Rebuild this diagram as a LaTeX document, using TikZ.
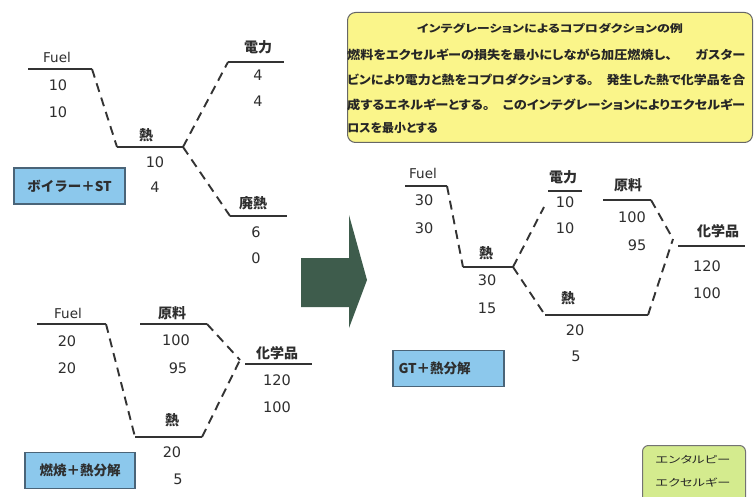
\documentclass[tikz,border=0pt]{standalone}
\usepackage{fontspec}
\setmainfont{DejaVu Sans}
\newfontfamily\jp{Noto Sans CJK JP}
\newfontfamily\jpp{Noto Sans CJK JP}[RawFeature=+palt]
\definecolor{linec}{HTML}{333333}
\definecolor{numc}{HTML}{2E2E2E}
\definecolor{boxblue}{HTML}{8CC8EC}
\definecolor{boxblueb}{HTML}{4A6478}
\definecolor{arrowg}{HTML}{3E5C4C}
\definecolor{noteyel}{HTML}{FAF58A}
\definecolor{notegrn}{HTML}{D4EB8E}
\begin{document}
\begin{tikzpicture}[x=1pt,y=-1pt,
  lvl/.style={draw=linec, line width=1.9pt},
  flow/.style={draw=linec, line width=1.9pt, dash pattern=on 9pt off 6pt},
  num/.style={font=\fontsize{14.5}{14.5}\selectfont, text=numc, inner sep=0pt},
  lab/.style={font=\jp\bfseries\fontsize{14}{14}\selectfont, text=numc, inner sep=0pt},
  fuel/.style={font=\fontsize{13.5}{13.5}\selectfont, text=numc, inner sep=0pt},
  casebox/.style={draw=boxblueb, line width=1.2pt, fill=boxblue, minimum width=#1, minimum height=36pt, font=\jp\bfseries\fontsize{13.5}{13.5}\selectfont, text=numc},
  body/.style={font=\jpp\bfseries\fontsize{12}{12}\selectfont, text=black!85, inner sep=0pt, anchor=west}
]
\useasboundingbox (0,0) rectangle (754,497);
\fill[white] (0,0) rectangle (754,497);

% ===== note boxes =====
\node[draw=black!60, line width=1pt, fill=noteyel, rounded corners=8pt, minimum width=405pt, minimum height=130pt, anchor=north west] (note) at (347,12) {};
\node[font=\jpp\bfseries\fontsize{10.5}{10.5}\selectfont, text=black!85, inner sep=0pt] (title) at (550,28) {\resizebox{266pt}{\height}{インテグレーションによるコプロダクションの例}};
\node[body] (l1) at (347,55) {\resizebox{398pt}{\height}{燃料をエクセルギーの損失を最小にしながら加圧燃焼し、\hspace{1.8em}ガスター}};
\node[body] (l2) at (347,80) {\resizebox{398pt}{\height}{ビンにより電力と熱をコプロダクションする。\hspace{1em}発生した熱で化学品を合}};
\node[body] (l3) at (347,105) {\resizebox{398pt}{\height}{成するエネルギーとする。\hspace{1em}このインテグレーションによりエクセルギー}};
\node[body] (l4) at (347,128) {ロスを最小とする};

\node[draw=black!55, line width=1pt, fill=notegrn, rounded corners=6pt, minimum width=103pt, minimum height=65pt, anchor=north west] (legend) at (642,445) {};
\node[font=\jpp\fontsize{10}{10}\selectfont, text=black!85, inner sep=0pt] (lg1) at (693,460) {\resizebox{75pt}{\height}{エンタルピー}};
\node[font=\jpp\fontsize{10}{10}\selectfont, text=black!85, inner sep=0pt] (lg2) at (693,483) {\resizebox{75pt}{\height}{エクセルギー}};

% ===== big arrow =====
\fill[arrowg] (301,258) -- (349,258) -- (349,215) -- (367,280) -- (349,328) -- (349,307) -- (301,307) -- cycle;

% ===== case 1: boiler + ST =====
\node[casebox=111pt] (c1) at (69.5,186) {ボイラー＋ST};
\coordinate (a1) at (28,69);  \coordinate (a2) at (92,69);
\coordinate (a3) at (117,147); \coordinate (a4) at (183,147);
\coordinate (a5) at (228,62); \coordinate (a6) at (284,62);
\coordinate (a7) at (230,216); \coordinate (a8) at (287,216);
\draw[lvl] (a1) -- (a2);
\draw[flow] (a2) -- (a3);
\draw[lvl] (a3) -- (a4);
\draw[flow] (a4) -- (a5);
\draw[lvl] (a5) -- (a6);
\draw[flow] (a4) -- (a7);
\draw[lvl] (a7) -- (a8);
\node[fuel] (f1) at (57,57) {Fuel};
\node[num] at (58,85) {10};
\node[num] at (58,112) {10};
\node[lab] (h1) at (146,135) {熱};
\node[num] at (155,162) {10};
\node[num] at (155,187) {4};
\node[lab] (e1) at (258,47) {電力};
\node[num] at (258,75) {4};
\node[num] at (258,101) {4};
\node[lab] (w1) at (253,203) {廃熱};
\node[num] at (256,232) {6};
\node[num] at (256,258) {0};

% ===== case 2: combustion + cracking =====
\node[casebox=110pt] (c2) at (80,470.5) {燃焼＋熱分解};
\coordinate (b1) at (37,324);  \coordinate (b2) at (106,324);
\coordinate (b3) at (135,437); \coordinate (b4) at (202,437);
\coordinate (b5) at (140,324); \coordinate (b6) at (207,324);
\coordinate (bj) at (240,360);
\coordinate (b7) at (245,364); \coordinate (b8) at (312,364);
\draw[lvl] (b1) -- (b2);
\draw[flow] (b2) -- (b3);
\draw[lvl] (b3) -- (b4);
\draw[flow] (b4) -- (bj);
\draw[lvl] (b5) -- (b6);
\draw[flow] (b6) -- (bj);
\draw[lvl] (b7) -- (b8);
\node[fuel] (f2) at (68,313) {Fuel};
\node[num] at (67,341) {20};
\node[num] at (67,368) {20};
\node[lab] (r2) at (172,313) {原料};
\node[num] at (176,340) {100};
\node[num] at (178,368) {95};
\node[lab] (h2) at (172,420) {熱};
\node[num] at (172,452) {20};
\node[num] at (178,479) {5};
\node[lab] (p2) at (277,353) {化学品};
\node[num] at (277,380) {120};
\node[num] at (277,407) {100};

% ===== case 3: GT + cracking =====
\node[casebox=111pt, text width=100pt, align=left] (c3) at (448.5,368.5) {GT＋熱分解};
\coordinate (d1) at (405,186); \coordinate (d2) at (447,186);
\coordinate (d3) at (463,267); \coordinate (d4) at (513,267);
\coordinate (d5) at (544,207);
\coordinate (d6) at (548,191); \coordinate (d7) at (582,191);
\coordinate (d8) at (545,315); \coordinate (d9) at (648,315);
\coordinate (d10) at (603,200); \coordinate (d11) at (651,200);
\coordinate (dj) at (673,239);
\coordinate (d12) at (678,246); \coordinate (d13) at (745,246);
\draw[lvl] (d1) -- (d2);
\draw[flow] (d2) -- (d3);
\draw[lvl] (d3) -- (d4);
\draw[flow] (d4) -- (d5);
\draw[lvl] (d6) -- (d7);
\draw[flow] (d4) -- (d8);
\draw[lvl] (d8) -- (d9);
\draw[flow] (d9) -- (dj);
\draw[lvl] (d10) -- (d11);
\draw[flow] (d11) -- (dj);
\draw[lvl] (d12) -- (d13);
\node[fuel] (f3) at (423,173) {Fuel};
\node[num] at (424,200) {30};
\node[num] at (424,228) {30};
\node[lab] (h3) at (486,253) {熱};
\node[num] at (487,280) {30};
\node[num] at (487,308) {15};
\node[lab] (e3) at (563,177) {電力};
\node[num] at (565,202) {10};
\node[num] at (565,228) {10};
\node[lab] (h4) at (568,298) {熱};
\node[num] at (575,330) {20};
\node[num] at (576,356) {5};
\node[lab] (r3) at (628,185) {原料};
\node[num] at (632,217) {100};
\node[num] at (637,245) {95};
\node[lab] (p3) at (718,231) {化学品};
\node[num] at (707,266) {120};
\node[num] at (707,293) {100};
\end{tikzpicture}
\end{document}
